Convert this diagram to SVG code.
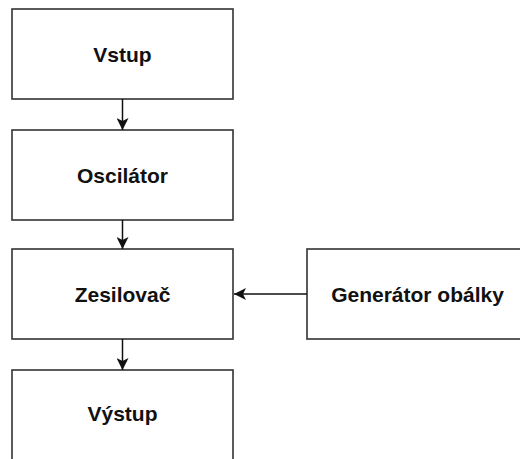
<svg xmlns="http://www.w3.org/2000/svg" width="520" height="459" viewBox="0 0 520 459">
<style>
.box{fill:#fff;stroke:#333;stroke-width:1.6}
.lbl{font-family:"Liberation Sans",Arial,sans-serif;font-weight:bold;font-size:21px;fill:#111;text-anchor:middle}
.edge{stroke:#111;stroke-width:1.5;fill:none}
</style>
<defs>
<marker id="ah" viewBox="0 0 12 12" refX="12" refY="6" markerWidth="12" markerHeight="12" markerUnits="userSpaceOnUse" orient="auto">
<path d="M0,0 L12,6 L0,12 L3,6 Z" fill="#111"/>
</marker>
</defs>
<rect width="520" height="459" fill="#fff"/>
<g id="vstup"><rect class="box" x="12" y="9" width="221" height="90"/><text class="lbl" x="122.5" y="62">Vstup</text></g>
<g id="oscilator"><rect class="box" x="12" y="130" width="221" height="90"/><text class="lbl" x="122.5" y="183">Oscilátor</text></g>
<g id="zesilovac"><rect class="box" x="12" y="249" width="221" height="90"/><text class="lbl" x="122.5" y="302">Zesilovač</text></g>
<g id="generator"><rect class="box" x="307" y="249" width="221" height="90"/><text class="lbl" x="417.5" y="302">Generátor obálky</text></g>
<g id="vystup"><rect class="box" x="12" y="370" width="221" height="95"/><text class="lbl" x="122.5" y="421">Výstup</text></g>
<g id="connectors">
<line class="edge" x1="122.5" y1="99" x2="122.5" y2="130" marker-end="url(#ah)"/>
<line class="edge" x1="122.5" y1="220" x2="122.5" y2="249" marker-end="url(#ah)"/>
<line class="edge" x1="307" y1="294" x2="234" y2="294" marker-end="url(#ah)"/>
<line class="edge" x1="122.5" y1="339" x2="122.5" y2="370" marker-end="url(#ah)"/>
</g>
</svg>
